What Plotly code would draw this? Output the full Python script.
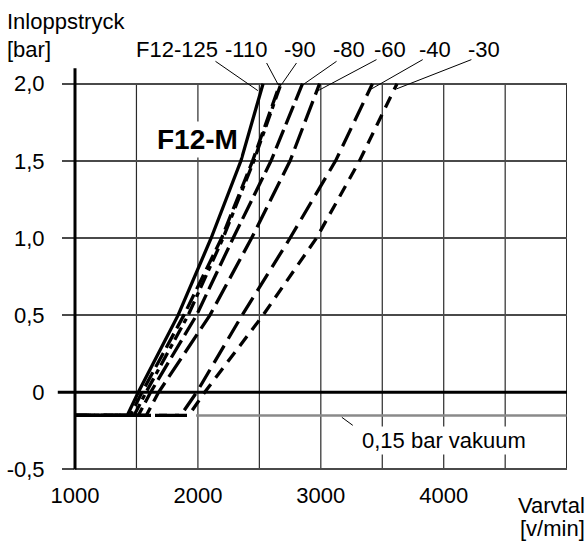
import plotly.graph_objects as go

# ---- data ----
pressure_bar = [-0.15, -0.15, 0.0, 0.5, 1.0, 1.5, 2.0]
series_names = ["F12-125", "-110", "-90", "-80", "-60", "-40", "-30"]
rpm_f12_125 = [1000, 1425, 1515, 1839, 2108, 2350, 2530]
rpm_110 = [1000, 1450, 1545, 1886, 2193, 2445, 2668]
rpm_90 = [1000, 1480, 1578, 1921, 2205, 2455, 2676]
rpm_80 = [1000, 1515, 1615, 1989, 2287, 2595, 2851]
rpm_60 = [1000, 1580, 1680, 2098, 2437, 2750, 2990]
rpm_40 = [1000, 1860, 1990, 2360, 2750, 3120, 3420]
rpm_30 = [1000, 1925, 2055, 2530, 2965, 3315, 3620]
series_rpm = [rpm_f12_125, rpm_110, rpm_90, rpm_80, rpm_60, rpm_40, rpm_30]
series_dash = ["solid", "16px,6px", "14px,5px,5px,5px", "20px,6px", "22px,7px", "20px,8px", "12px,8px"]

# label positions (rpm) and leader line end points at the curve tops (rpm, bar)
label_x = [1829, 2394, 2829, 3228, 3561, 3927, 4329]
leader_start = [(2143, 2.145), (2559, 2.134), (2802, 2.134), (3128, 2.145),
                (3453, 2.156), (3829, 2.156), (4225, 2.156)]
leader_end = [(2488, 1.955), (2653, 1.994), (2680, 1.994), (2856, 1.994),
              (2978, 1.955), (3412, 1.966), (3615, 1.966)]

y_tickvals = [-0.5, 0, 0.5, 1.0, 1.5, 2.0]
y_ticktext = ["-0,5", "0", "0,5", "1,0", "1,5", "2,0"]
x_tickvals = [1000, 2000, 3000, 4000]
x_ticktext = ["1000", "2000", "3000", "4000"]
x_gridvals = [1500, 2000, 2500, 3000, 3500, 4000, 4500, 5000]
vacuum_level = -0.15

X_RANGE = [1000, 5003]
Y_RANGE = [-0.51, 2.16]


def px(v):
    return (v - X_RANGE[0]) / (X_RANGE[1] - X_RANGE[0])


def py(v):
    return (v - Y_RANGE[0]) / (Y_RANGE[1] - Y_RANGE[0])


FONT = "Liberation Sans, Arial, sans-serif"
TXT = dict(size=22, color="black", family=FONT)

fig = go.Figure()
for name, rpm, dash in zip(series_names, series_rpm, series_dash):
    fig.add_trace(go.Scatter(x=rpm, y=pressure_bar, mode="lines", name=name,
                             line=dict(color="black", width=3.3, dash=dash),
                             hoverinfo="skip"))

shapes = []
for gx in x_gridvals:
    shapes.append(dict(type="line", xref="x", yref="y", x0=gx, x1=gx, y0=-0.5, y1=2.0,
                       line=dict(color="#2a2a2a", width=1.2), layer="below"))
shapes.append(dict(type="line", xref="x", yref="y", x0=1985, x1=5000, y0=vacuum_level, y1=vacuum_level,
                   line=dict(color="#8a8a8a", width=2.5), layer="below"))
shapes.append(dict(type="line", xref="paper", yref="y", x0=-0.035, x1=1, y0=0, y1=0,
                   line=dict(color="black", width=3), layer="above"))
shapes.append(dict(type="line", xref="paper", yref="y", x0=0, x1=0, y0=-0.5, y1=2.1,
                   line=dict(color="black", width=3), layer="above"))
for (x0, y0), (x1, y1) in zip(leader_start, leader_end):
    shapes.append(dict(type="line", xref="x", yref="y", x0=x0, y0=y0, x1=x1, y1=y1,
                       line=dict(color="black", width=1), layer="above"))
shapes.append(dict(type="line", xref="x", yref="y", x0=3171, y0=-0.162, x1=3260, y1=-0.214,
                   line=dict(color="black", width=1), layer="above"))

# plot area: x 75..567, y 59..471 (page pixels)
annotations = []
for name, lx in zip(series_names, label_x):
    annotations.append(dict(x=px(lx), y=1.024, xref="paper", yref="paper", text=name,
                            showarrow=False, font=TXT, xanchor="center", yanchor="middle"))
annotations += [
    dict(x=(5 - 75) / 492, y=(471 - 21) / 412, xref="paper", yref="paper", text="Inloppstryck",
         showarrow=False, font=TXT, xanchor="left", yanchor="middle"),
    dict(x=(5 - 75) / 492, y=(471 - 49) / 412, xref="paper", yref="paper", text="[bar]",
         showarrow=False, font=TXT, xanchor="left", yanchor="middle"),
    dict(x=px(1996), y=py(1.64), xref="paper", yref="paper", text="<b>F12-M</b>", showarrow=False,
         font=dict(size=28, color="black", family=FONT), xanchor="center", yanchor="middle",
         bgcolor="white", borderpad=2),
    dict(x=px(4000), y=py(-0.31), xref="paper", yref="paper", text="0,15 bar vakuum", showarrow=False,
         font=TXT, xanchor="center", yanchor="middle", bgcolor="white", borderpad=1),
    dict(x=(587 - 75) / 492, y=(471 - 505) / 412, xref="paper", yref="paper", text="Varvtal",
         showarrow=False, font=TXT, xanchor="right", yanchor="middle"),
    dict(x=(587 - 75) / 492, y=(471 - 528) / 412, xref="paper", yref="paper", text="[v/min]",
         showarrow=False, font=TXT, xanchor="right", yanchor="middle"),
]

fig.update_layout(
    width=588, height=541,
    margin=dict(l=75, r=21, t=59, b=70, pad=0),
    paper_bgcolor="white", plot_bgcolor="white",
    showlegend=False,
    font=dict(family=FONT, size=22, color="black"),
    shapes=shapes, annotations=annotations,
    xaxis=dict(range=X_RANGE, tickvals=x_tickvals, ticktext=x_ticktext,
               showgrid=False, zeroline=False, showline=False, ticks="",
               tickfont=TXT, ticklabelstandoff=9, automargin=False,
               fixedrange=True),
    yaxis=dict(range=Y_RANGE, tickvals=y_tickvals, ticktext=y_ticktext,
               showgrid=True, gridcolor="#4a4a4a", gridwidth=1.5,
               zeroline=False, showline=False, ticks="outside", ticklen=12,
               tickwidth=1.5, tickcolor="#4a4a4a",
               tickfont=TXT, ticklabelstandoff=13, automargin=False,
               fixedrange=True),
)

fig.write_html("out.html", config={"displayModeBar": False},
               post_script="document.body.style.margin='0';document.body.style.overflow='hidden';")
